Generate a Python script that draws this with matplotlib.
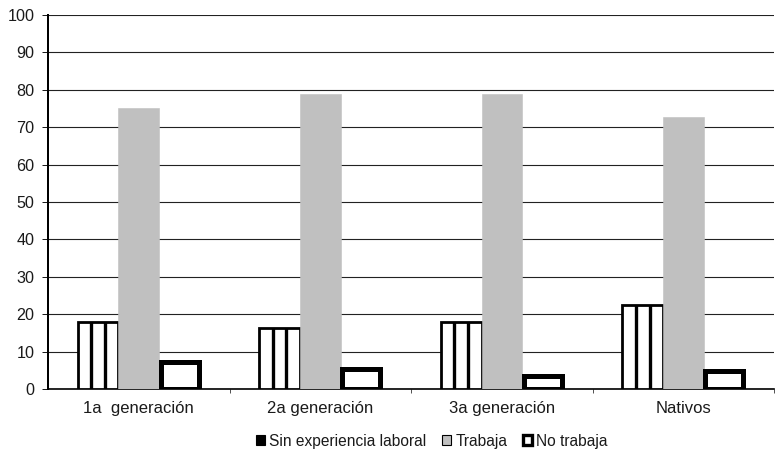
import matplotlib.pyplot as plt
import numpy as np
from matplotlib.patches import Patch

plt.rcParams['font.family'] = ['Liberation Sans', 'DejaVu Sans']

groups = ['1a  generación', '2a generación', '3a generación', 'Nativos']
series = ['Sin experiencia laboral', 'Trabaja', 'No trabaja']
sin_exp = [18.0, 16.3, 18.0, 22.5]
trabaja = [75.2, 78.8, 78.8, 72.8]
no_trabaja = [7.2, 5.3, 3.6, 4.9]

fig = plt.figure(figsize=(781/80, 462/80), dpi=80)
ax = fig.add_axes([0.0615, 0.158, 0.93, 0.8095])

x = np.arange(len(groups))
w = 0.225
ax.bar(x - w, sin_exp, w, color='white', edgecolor='black', lw=2.5, zorder=3)
# vertical stripes inside the first series
for xi, h in zip(x - w, sin_exp):
    ax.vlines([xi - w/6, xi + w/6], 0, h, color='black', lw=3, zorder=4)
ax.bar(x, trabaja, w, color='#c0c0c0', edgecolor='#c0c0c0', lw=0.5, zorder=3)
ax.bar(x + w, no_trabaja, w*0.93, color='white', edgecolor='black', lw=4.5, zorder=3)

ax.set_xlim(-0.5, 3.5)
ax.set_ylim(0, 100)
ax.set_yticks(np.arange(0, 101, 10))
ax.yaxis.grid(True, color='#222222', lw=1)
ax.set_axisbelow(True)
ax.set_xticks(x)
ax.set_xticklabels(groups)
ax.set_xticks(np.arange(0.5, 4, 1), minor=True)
ax.tick_params(axis='x', which='major', length=0, pad=11, labelsize=15, labelcolor='#1a1a1a')
ax.tick_params(axis='x', which='minor', length=4, direction='out')
ax.tick_params(axis='y', length=5, direction='out', labelsize=14.5, pad=7, labelcolor='#1a1a1a')
for s in ['top', 'right']:
    ax.spines[s].set_visible(False)
ax.spines['left'].set_linewidth(1.8)
ax.spines['bottom'].set_linewidth(1.5)

handles = [Patch(facecolor='black', edgecolor='black'),
           Patch(facecolor='#c0c0c0', edgecolor='black', lw=1),
           Patch(facecolor='white', edgecolor='black', lw=3)]
fig.legend(handles, series, loc='center', bbox_to_anchor=(0.553, 0.045), ncol=3,
           frameon=False, handlelength=0.6, handleheight=0.6, handletextpad=0.25,
           columnspacing=1.0, fontsize=14, labelcolor='#1a1a1a')

fig.savefig('out.png', dpi=80)
